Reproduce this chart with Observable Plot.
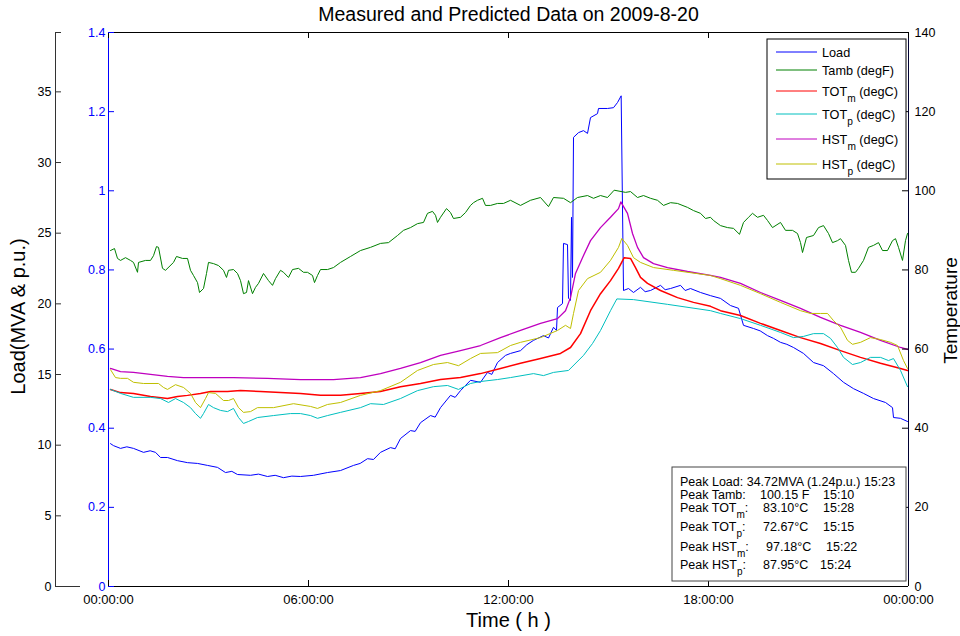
<!DOCTYPE html>
<html><head><meta charset="utf-8">
<script src="https://cdn.jsdelivr.net/npm/d3@7"></script>
<script src="https://cdn.jsdelivr.net/npm/@observablehq/plot@0.6"></script>
<style>body{margin:0;background:#fff}</style>
</head><body><div id="chart"></div>
<script>
// ---------- DATA (hour of day, value) ----------
const loadPU = [[0.06,0.361],[0.15,0.356],[0.36,0.349],[0.55,0.353],[0.75,0.349],[1.05,0.339],[1.25,0.343],[1.41,0.339],[1.56,0.326],[1.77,0.326],[2.07,0.318],[2.37,0.313],[2.67,0.311],[2.97,0.306],[3.27,0.301],[3.51,0.288],[3.7,0.291],[3.87,0.283],[4.26,0.281],[4.5,0.284],[4.77,0.278],[5.0,0.281],[5.25,0.275],[5.5,0.279],[5.76,0.278],[6.15,0.281],[6.57,0.288],[6.96,0.293],[7.35,0.306],[7.55,0.311],[7.77,0.323],[7.95,0.321],[8.16,0.339],[8.46,0.351],[8.6,0.348],[8.76,0.374],[9.06,0.394],[9.2,0.392],[9.36,0.414],[9.66,0.432],[9.8,0.428],[9.96,0.452],[10.26,0.483],[10.4,0.478],[10.56,0.495],[10.86,0.521],[11.16,0.516],[11.37,0.541],[11.5,0.536],[11.67,0.566],[11.91,0.584],[12.06,0.589],[12.36,0.596],[12.55,0.611],[12.75,0.622],[13.05,0.634],[13.2,0.628],[13.35,0.655],[13.44,0.647],[13.47,0.705],[13.62,0.715],[13.65,0.867],[13.77,0.864],[13.80,0.728],[13.86,0.723],[13.89,0.933],[13.92,0.781],[13.95,1.135],[14.10,1.147],[14.25,1.152],[14.37,1.145],[14.46,1.185],[14.67,1.195],[14.70,1.208],[14.97,1.208],[15.15,1.210],[15.27,1.223],[15.38,1.240],[15.45,0.748],[15.60,0.753],[15.75,0.743],[15.96,0.756],[16.1,0.745],[16.26,0.748],[16.56,0.761],[16.7,0.750],[16.86,0.753],[17.16,0.761],[17.3,0.748],[17.46,0.753],[17.76,0.743],[18.06,0.735],[18.36,0.728],[18.66,0.710],[18.90,0.703],[19.05,0.660],[19.35,0.652],[19.55,0.646],[19.77,0.634],[19.95,0.627],[20.16,0.617],[20.35,0.612],[20.55,0.604],[20.85,0.589],[21.15,0.566],[21.45,0.558],[21.75,0.538],[22.05,0.516],[22.35,0.500],[22.65,0.488],[22.95,0.475],[23.31,0.465],[23.52,0.452],[23.55,0.427],[23.76,0.425],[23.97,0.417]];

const tambF = [[0.06,84.9],[0.18,85.4],[0.27,82.9],[0.36,82.4],[0.51,83.1],[0.66,82.4],[0.75,81.9],[0.87,79.4],[0.90,81.9],[1.11,82.4],[1.26,82.4],[1.35,83.6],[1.44,85.9],[1.50,85.7],[1.62,80.4],[1.71,79.9],[1.95,81.9],[2.04,83.4],[2.22,82.9],[2.37,82.9],[2.46,79.9],[2.55,78.6],[2.67,76.8],[2.73,74.3],[2.85,75.3],[2.94,79.1],[3.00,81.9],[3.15,81.6],[3.30,81.1],[3.45,79.9],[3.54,78.1],[3.60,79.9],[3.75,80.1],[3.87,79.1],[3.96,77.3],[4.05,74.0],[4.14,74.3],[4.20,77.3],[4.32,74.0],[4.41,75.6],[4.50,76.6],[4.65,79.1],[4.80,77.3],[4.92,76.1],[5.01,77.8],[5.16,79.9],[5.25,79.4],[5.40,78.1],[5.52,80.1],[5.70,80.4],[5.85,79.4],[5.97,79.4],[6.12,78.6],[6.18,76.8],[6.27,78.6],[6.36,80.1],[6.57,80.1],[6.75,80.6],[6.96,81.9],[7.26,83.4],[7.56,84.9],[7.86,85.7],[8.16,86.7],[8.40,86.9],[8.67,88.7],[8.85,90.0],[9.06,90.7],[9.27,91.7],[9.45,92.0],[9.57,94.3],[9.72,94.8],[9.81,93.8],[9.87,92.0],[9.96,93.3],[10.14,95.5],[10.26,94.5],[10.35,93.0],[10.56,93.3],[10.71,94.5],[10.86,96.3],[10.95,97.0],[11.07,97.6],[11.22,98.1],[11.31,96.3],[11.46,96.3],[11.67,96.8],[11.85,96.8],[12.06,97.6],[12.36,96.3],[12.66,97.6],[12.96,98.3],[13.20,96.0],[13.35,98.3],[13.65,98.1],[13.86,97.0],[14.07,98.3],[14.37,98.8],[14.55,98.1],[14.76,98.8],[14.97,98.3],[15.17,100.15],[15.51,99.6],[15.66,99.8],[15.87,98.3],[16.05,98.8],[16.26,98.1],[16.47,97.6],[16.65,96.3],[16.86,97.0],[17.07,96.8],[17.37,95.8],[17.55,95.0],[17.76,94.3],[17.91,93.0],[18.06,93.3],[18.15,92.5],[18.36,91.2],[18.57,90.7],[18.75,90.5],[18.93,89.0],[19.05,92.0],[19.20,93.3],[19.32,94.3],[19.47,93.3],[19.65,93.8],[19.77,92.5],[19.92,90.7],[20.16,92.0],[20.31,90.0],[20.52,90.0],[20.67,89.2],[20.76,86.9],[20.82,84.4],[20.94,88.2],[21.15,88.7],[21.30,90.7],[21.45,91.2],[21.60,89.2],[21.72,86.9],[21.87,87.4],[21.96,87.9],[22.11,86.2],[22.20,82.4],[22.29,79.4],[22.41,79.4],[22.50,80.4],[22.65,82.4],[22.80,85.7],[22.95,86.2],[23.10,86.9],[23.22,84.9],[23.37,84.9],[23.52,87.4],[23.61,87.9],[23.70,85.7],[23.82,82.4],[23.91,87.4],[23.97,89.2]];

const totM = [[0.06,49.8],[0.36,49.0],[0.75,48.8],[1.26,48.0],[1.77,47.5],[2.07,48.0],[2.37,48.3],[2.76,48.8],[3.06,49.3],[3.57,49.3],[3.96,49.5],[4.56,49.3],[5.16,49.0],[5.76,48.8],[6.36,48.3],[6.96,48.3],[7.56,48.8],[8.16,49.3],[8.76,50.5],[9.36,51.3],[9.96,52.3],[10.56,52.8],[11.16,53.8],[11.76,55.1],[12.36,56.4],[12.96,57.6],[13.56,58.9],[13.86,60.4],[14.16,63.9],[14.46,69.7],[14.76,74.0],[15.06,77.3],[15.30,80.4],[15.47,83.1],[15.66,82.9],[15.81,80.6],[15.96,78.1],[16.17,76.6],[16.56,74.8],[17.07,73.0],[17.55,71.8],[18.06,70.8],[18.36,69.7],[18.96,68.5],[19.56,66.5],[20.16,64.7],[20.76,62.9],[21.36,61.4],[21.96,59.6],[22.56,57.9],[23.16,56.4],[23.76,55.1],[23.97,54.6]];

const totP = [[0.06,49.8],[0.36,48.8],[0.75,47.8],[1.26,47.8],[1.56,47.5],[1.80,46.5],[2.01,47.5],[2.25,46.5],[2.46,45.2],[2.61,43.7],[2.76,42.5],[2.85,43.7],[3.00,46.0],[3.15,45.2],[3.36,44.5],[3.57,44.2],[3.75,45.0],[3.90,42.7],[4.05,41.2],[4.20,41.7],[4.47,42.7],[4.95,43.2],[5.46,43.7],[5.76,43.7],[6.06,43.2],[6.27,42.5],[6.57,43.2],[6.96,44.0],[7.56,45.2],[7.86,46.2],[8.25,46.0],[8.76,47.5],[9.27,49.5],[9.75,50.5],[10.17,50.8],[10.50,49.8],[10.86,51.3],[11.16,51.8],[11.67,52.3],[12.06,52.8],[12.75,53.8],[13.05,53.3],[13.35,54.1],[13.80,54.6],[14.25,58.4],[14.52,61.4],[14.76,64.7],[15.06,69.7],[15.25,72.67],[15.75,72.5],[16.77,71.3],[18.06,69.7],[18.36,69.0],[18.96,67.7],[19.56,66.0],[20.16,64.2],[20.55,62.9],[20.85,63.2],[21.15,63.9],[21.45,63.9],[21.66,62.7],[21.87,60.4],[22.05,57.9],[22.32,56.1],[22.56,56.6],[22.86,57.9],[23.16,57.9],[23.40,57.1],[23.55,57.6],[23.76,54.6],[23.97,50.5]];

const hstM = [[0.06,55.1],[0.36,54.3],[0.75,54.1],[1.26,53.6],[1.77,53.1],[2.25,52.8],[2.76,52.8],[3.75,52.8],[4.77,52.6],[5.76,52.3],[6.75,52.3],[7.56,52.8],[8.16,53.8],[8.76,55.1],[9.36,56.6],[9.96,58.4],[10.56,59.6],[11.16,60.9],[11.76,62.9],[12.36,64.7],[12.96,66.5],[13.47,67.7],[13.71,69.7],[13.86,73.0],[14.01,79.1],[14.22,83.1],[14.46,87.4],[14.76,90.7],[15.06,93.3],[15.30,95.5],[15.37,97.18],[15.57,94.3],[15.72,89.2],[15.87,85.7],[16.05,83.1],[16.35,81.6],[16.77,80.6],[17.37,79.6],[18.06,78.6],[18.36,78.1],[18.96,76.6],[19.56,74.3],[20.16,72.3],[20.76,70.3],[21.36,68.0],[21.96,66.0],[22.56,64.2],[23.16,62.2],[23.76,60.4],[23.97,59.9]];

const hstP = [[0.06,54.8],[0.21,52.8],[0.36,52.6],[0.57,52.6],[0.75,51.6],[1.05,51.3],[1.50,51.3],[1.65,50.3],[1.77,49.8],[2.01,51.0],[2.25,50.3],[2.46,48.8],[2.61,46.5],[2.76,45.2],[2.91,47.5],[3.00,49.0],[3.21,48.8],[3.45,47.0],[3.60,47.0],[3.75,47.5],[3.90,45.2],[4.05,44.0],[4.26,44.2],[4.47,45.2],[4.95,45.2],[5.55,46.2],[6.06,45.5],[6.27,45.0],[6.57,46.0],[6.96,46.5],[7.56,48.3],[8.16,49.5],[8.76,51.6],[9.27,54.6],[9.75,56.1],[10.17,56.6],[10.50,55.8],[10.86,57.6],[11.16,58.9],[11.67,59.1],[12.06,60.9],[12.36,61.7],[12.96,62.9],[13.47,64.7],[13.71,66.0],[13.86,65.2],[13.95,69.0],[14.10,74.8],[14.37,77.8],[14.76,79.4],[15.06,82.4],[15.30,85.7],[15.40,87.95],[15.57,86.2],[15.75,83.1],[15.96,81.9],[16.35,80.6],[16.95,79.9],[18.06,78.6],[18.36,77.8],[18.96,76.1],[19.56,74.0],[20.16,71.8],[20.76,69.7],[21.06,69.0],[21.36,69.0],[21.57,69.0],[21.75,67.2],[21.96,65.5],[22.17,62.2],[22.32,61.2],[22.56,61.7],[22.86,62.9],[23.16,62.4],[23.46,61.7],[23.67,60.9],[23.85,57.1],[23.97,55.1]];

const seriesNames = ["Load", "Tamb (degF)", "TOT_m (degC)", "TOT_p (degC)", "HST_m (degC)", "HST_p (degC)"];
const seriesColors = ["#0000FF", "#008000", "#FF0000", "#00BFBF", "#BF00BF", "#BFBF00"];

const xTickHours = [0, 6, 12, 18, 24];
const puTicks = [0, 0.2, 0.4, 0.6, 0.8, 1, 1.2, 1.4];
const tempTicks = [0, 20, 40, 60, 80, 100, 120, 140];
const mvaTicks = [0, 5, 10, 15, 20, 25, 30, 35];
const MVA_BASE = 28; // MVA per p.u.

const peakLoad = {mva: 34.72, pu: 1.24, time: "15:23"};
const peakNames = ["Tamb", "TOT_m", "TOT_p", "HST_m", "HST_p"];
const peakValues = ["100.15 F", "83.10°C", "72.67°C", "97.18°C", "87.95°C"];
const peakTimes = ["15:10", "15:28", "15:15", "15:22", "15:24"];

const titleText = "Measured and Predicted Data on 2009-8-20";
const xLabel = "Time ( h )";
const yLeftLabel = "Load(MVA & p.u.)";
const yRightLabel = "Temperature";

// ---------- helpers ----------
const pad2 = n => String(n % 24).padStart(2, "0");
function subText(sel, str, x, y, fs) {
  const t = sel.append("text").attr("x", x).attr("y", y).attr("font-size", fs)
    .attr("text-anchor", "start").style("white-space", "pre");
  const m = str.match(/^([^_]*)_(.)(.*)$/);
  if (!m) { t.text(str); return t; }
  t.append("tspan").text(m[1]);
  t.append("tspan").attr("dy", fs * 0.5).attr("font-size", fs * 0.8).text(m[2]);
  t.append("tspan").attr("dy", -fs * 0.5).text(m[3]);
  return t;
}

function legendMark(index, scales, values, dim) {
  const right = dim.width - dim.marginRight - 2;
  const top = dim.marginTop + 7;
  const g = d3.create("svg:g").attr("font-family", "Liberation Sans, Arial, sans-serif").attr("text-anchor", "start");
  const w = 139, h = 140;
  g.append("rect").attr("x", right - w).attr("y", top).attr("width", w).attr("height", h)
    .attr("fill", "white").attr("stroke", "black").attr("stroke-width", 1);
  const rows = [13, 31, 52, 75, 100, 125];
  seriesNames.forEach((name, i) => {
    const yy = top + rows[i];
    g.append("line").attr("x1", right - w + 9).attr("x2", right - w + 50)
      .attr("y1", yy).attr("y2", yy).attr("stroke", seriesColors[i]).attr("stroke-width", 1);
    subText(g, name, right - w + 55, yy + 4.5, 12.7).attr("fill", "black");
  });
  return g.node();
}

function peakMark(index, scales, values, dim) {
  const right = dim.width - dim.marginRight - 2;
  const bottom = dim.height - dim.marginBottom - 5;
  const w = 234, h = 114;
  const x0 = right - w, y0 = bottom - h;
  const g = d3.create("svg:g").attr("font-family", "Liberation Sans, Arial, sans-serif").attr("fill", "black").attr("text-anchor", "start");
  g.append("rect").attr("x", x0).attr("y", y0).attr("width", w).attr("height", h)
    .attr("fill", "white").attr("stroke", "#444").attr("stroke-width", 1);
  const fs = 12.5;
  subText(g, `Peak Load: ${peakLoad.mva.toFixed(2)}MVA (${peakLoad.pu.toFixed(2)}p.u.) ${peakLoad.time}`, x0 + 8, y0 + 19, fs);
  const rows = [32, 45, 64, 84, 102];
  const valX = [88, 91, 91, 94, 91];
  const timeX = [151, 151, 151, 154, 148];
  peakNames.forEach((n, i) => {
    const yy = y0 + rows[i];
    subText(g, `Peak ${n}:`, x0 + 8, yy, fs);
    g.append("text").attr("x", x0 + valX[i]).attr("y", yy).attr("font-size", fs).attr("text-anchor", "start").text(peakValues[i]);
    g.append("text").attr("x", x0 + timeX[i]).attr("y", yy).attr("font-size", fs).attr("text-anchor", "start").text(peakTimes[i]);
  });
  return g.node();
}

// ---------- chart ----------
const inner = 800, innerH = 554, tk = 6;
const toY = pu => pu * 100; // p.u. shares the temperature scale (1 p.u. = 100)

const chart = Plot.plot({
  width: 960, height: 636,
  marginLeft: 108, marginRight: 52, marginTop: 32, marginBottom: 50,
  x: {domain: [0, 24]},
  y: {domain: [0, 140]},
  style: {fontFamily: "Liberation Sans, Arial, sans-serif", background: "white", color: "black"},
  marks: [
    // data lines
    Plot.line(loadPU, {x: d => d[0], y: d => toY(d[1]), stroke: seriesColors[0], strokeWidth: 1}),
    Plot.line(tambF, {x: d => d[0], y: d => d[1], stroke: seriesColors[1], strokeWidth: 1}),
    Plot.line(totM, {x: d => d[0], y: d => d[1], stroke: seriesColors[2], strokeWidth: 1.5}),
    Plot.line(totP, {x: d => d[0], y: d => d[1], stroke: seriesColors[3], strokeWidth: 1}),
    Plot.line(hstM, {x: d => d[0], y: d => d[1], stroke: seriesColors[4], strokeWidth: 1.3}),
    Plot.line(hstP, {x: d => d[0], y: d => d[1], stroke: seriesColors[5], strokeWidth: 1}),
    // frame
    Plot.ruleY([140], {stroke: "black"}),
    Plot.ruleY([0], {stroke: "black"}),
    Plot.ruleX([24], {stroke: "#000033"}),
    Plot.ruleX([0], {stroke: "#0000FF"}),
    // x ticks (inward, bottom and top)
    Plot.ruleX(xTickHours, {x: d => d, insetTop: innerH - tk, stroke: "black"}),
    Plot.ruleX(xTickHours, {x: d => d, insetBottom: innerH - tk, stroke: "black"}),
    Plot.axisX({ticks: xTickHours, tickFormat: h => `${pad2(h)}:00:00`, tickSize: 0, tickPadding: 8, fontSize: 13, label: null}),
    // blue p.u. axis (left)
    Plot.ruleY(puTicks, {y: d => toY(d), insetRight: inner - tk, stroke: "#0000FF"}),
    Plot.axisY({anchor: "left", ticks: puTicks.map(toY), tickFormat: d => String(+(d / 100).toFixed(1)), tickSize: 0, tickPadding: 3, fontSize: 12.5, color: "#0000FF", fill: "#0000FF", label: null}),
    // temperature axis (right)
    Plot.ruleY(tempTicks, {y: d => d, insetLeft: inner - tk, stroke: "black"}),
    Plot.axisY({anchor: "right", ticks: tempTicks, tickSize: 0, tickPadding: 6, fontSize: 12.5, label: null}),
    // outer MVA axis
    Plot.ruleX([0], {dx: -53, stroke: "#333"}),
    Plot.ruleY(mvaTicks, {y: d => d / MVA_BASE * 100, dx: -53, insetRight: inner - tk, stroke: "#333"}),
    Plot.ruleY([140], {dx: -53, insetRight: inner - tk, stroke: "#333"}),
    Plot.ruleY([0], {dx: -53, insetRight: inner - 25, stroke: "#333"}),
    Plot.axisY({anchor: "left", ticks: mvaTicks.map(m => m / MVA_BASE * 100), tickFormat: d => String(Math.round(d * MVA_BASE / 100)), tickSize: 0, tickPadding: 4, dx: -53, fontSize: 12.5, label: null}),
    // labels
    Plot.text([titleText], {text: d => d, frameAnchor: "top", dy: -18, lineAnchor: "middle", fontSize: 19.5}),
    Plot.text([xLabel], {text: d => d, frameAnchor: "bottom", dy: 34, lineAnchor: "middle", fontSize: 20}),
    Plot.text([yLeftLabel], {text: d => d, frameAnchor: "left", textAnchor: "middle", dx: -90, dy: 7, rotate: -90, lineAnchor: "middle", fontSize: 20}),
    Plot.text([yRightLabel], {text: d => d, frameAnchor: "right", textAnchor: "middle", dx: 42, dy: 1, rotate: -90, lineAnchor: "middle", fontSize: 19}),
    // legend and peak box
    legendMark,
    peakMark
  ]
});
document.getElementById("chart").appendChild(chart);
</script></body></html>
